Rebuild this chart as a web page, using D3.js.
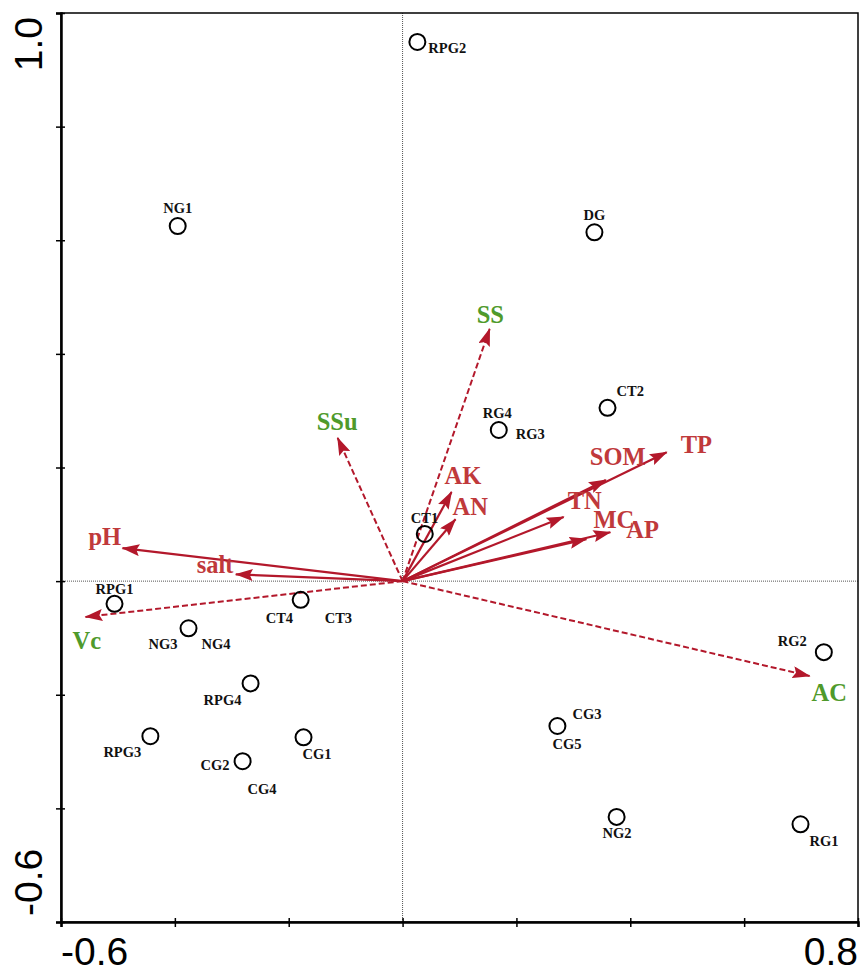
<!DOCTYPE html>
<html>
<head>
<meta charset="utf-8">
<script src="https://cdn.jsdelivr.net/npm/d3@7"></script>
<style>
  html, body { margin: 0; padding: 0; background: #fff; }
</style>
</head>
<body>
<div id="chart"></div>
<script>
// sample scores (axis 1, axis 2)
var siteNames = ["RPG2", "NG1", "DG", "CT2", "RG4", "CT1", "RPG1", "CT4", "NG3",
                 "RPG4", "RPG3", "CG1", "CG2", "RG2", "CG3", "NG2", "RG1"];
var siteX = [0.026, -0.395, 0.337, 0.360, 0.169, 0.039, -0.506, -0.179, -0.376,
             -0.267, -0.443, -0.174, -0.281, 0.740, 0.272, 0.376, 0.699];
var siteY = [0.949, 0.625, 0.614, 0.305, 0.266, 0.083, -0.040, -0.033, -0.083,
             -0.180, -0.273, -0.275, -0.317, -0.125, -0.255, -0.415, -0.428];

// sample labels (several points carry two labels)
var labelNames = ["RPG2", "NG1", "DG", "CT2", "RG4", "RG3", "CT1", "RPG1", "CT4", "CT3",
                  "NG3", "NG4", "RPG4", "RPG3", "CG1", "CG2", "CG4", "RG2", "CG3", "CG5", "NG2", "RG1"];
var labelSite = [0, 1, 2, 3, 4, 4, 5, 6, 7, 7, 8, 8, 9, 10, 11, 12, 12, 13, 14, 14, 15, 16];

// environmental vectors
var envNames = ["pH", "salt", "AK", "AN", "SOM", "TP", "TN", "MC", "AP"];
var envX = [-0.492, -0.293, 0.086, 0.093, 0.357, 0.464, 0.283, 0.323, 0.365];
var envY = [0.058, 0.012, 0.157, 0.109, 0.178, 0.227, 0.113, 0.074, 0.086];

// supplementary vectors (dashed)
var suppNames = ["SS", "SSu", "Vc", "AC"];
var suppX = [0.153, -0.114, -0.557, 0.715];
var suppY = [0.444, 0.252, -0.063, -0.167];

var xTicks = [-0.6, -0.4, -0.2, 0, 0.2, 0.4, 0.6, 0.8];
var yTicks = [-0.6, -0.4, -0.2, 0, 0.2, 0.4, 0.6, 0.8, 1.0];

// label placement (pixel offsets)
var labelPos = {
  RPG2: [11, 11, "start"], NG1: [0, -13, "middle"], DG: [0, -12, "middle"],
  CT2: [9, -12, "start"], RG4: [-16, -12, "start"], RG3: [17, 9, "start"],
  CT1: [-14, -11, "start"], RPG1: [0, -10, "middle"], CT4: [-35, 23, "start"],
  CT3: [24, 23, "start"], NG3: [-40, 21, "start"], NG4: [13, 21, "start"],
  RPG4: [-47, 22, "start"], RPG3: [-47, 21, "start"], CG1: [-1, 22, "start"],
  CG2: [-42, 9, "start"], CG4: [5, 33, "start"], RG2: [-46, -6, "start"],
  CG3: [15, -7, "start"], CG5: [-5, 23, "start"], NG2: [-14, 21, "start"],
  RG1: [9, 22, "start"]
};
var arrowPos = {
  pH: [-34, -3], salt: [-39, -1], AK: [-7, -8], AN: [-3, -4], SOM: [-16, -15],
  TP: [14, 1], TN: [4, -8], MC: [7, -11], AP: [16, 6],
  SS: [-13, -6], SSu: [-21, -8], Vc: [-13, 32], AC: [2, 25]
};

var W = 860, H = 971;
var padL = 61, padR = 858, padT = 13, padB = 922;
var arrowColor = "#b3182b", redText = "#c0393b", greenText = "#4f9a2b";

var svg = d3.select("#chart").append("svg")
  .attr("width", W).attr("height", H);

var x = d3.scaleLinear().domain([-0.6, 0.8]).range([padL, padR]);
var y = d3.scaleLinear().domain([-0.6, 1.0]).range([padB, padT]);

svg.append("defs").append("marker")
  .attr("id", "head")
  .attr("markerUnits", "userSpaceOnUse")
  .attr("viewBox", "0 0 18 12")
  .attr("refX", 17).attr("refY", 6)
  .attr("markerWidth", 18).attr("markerHeight", 12)
  .attr("orient", "auto")
  .append("path")
  .attr("d", "M0,0 L18,6 L0,12 L3,6 Z")
  .attr("fill", arrowColor);

// zero lines
svg.append("line")
  .attr("x1", x(0)).attr("x2", x(0)).attr("y1", padT).attr("y2", padB)
  .attr("stroke", "#555").attr("stroke-width", 1).attr("stroke-dasharray", "1,1");
svg.append("line")
  .attr("x1", padL).attr("x2", padR).attr("y1", y(0)).attr("y2", y(0))
  .attr("stroke", "#555").attr("stroke-width", 1).attr("stroke-dasharray", "1,1");

// frame
svg.append("rect")
  .attr("x", padL).attr("y", padT)
  .attr("width", padR - padL).attr("height", padB - padT)
  .attr("fill", "none").attr("stroke", "#000").attr("stroke-width", 1.5);

// axes
var xAxis = svg.append("g")
  .attr("transform", "translate(0," + padB + ")")
  .call(d3.axisBottom(x).tickValues(xTicks).tickSize(5).tickFormat(""));
xAxis.selectAll(".tick line").attr("y1", -4).attr("stroke-width", 1.5);
xAxis.select(".domain").attr("stroke-width", 2.5);

var yAxis = svg.append("g")
  .attr("transform", "translate(" + padL + ",0)")
  .call(d3.axisLeft(y).tickValues(yTicks).tickSize(5).tickFormat(""));
yAxis.selectAll(".tick line").attr("x1", 4).attr("x2", -5).attr("stroke-width", 1.5);
yAxis.select(".domain").attr("stroke-width", 2.5);

// axis end labels
var axisFont = "'Liberation Sans', Arial, sans-serif";
svg.append("text").text("-0.6")
  .attr("x", padL).attr("y", 965)
  .attr("font-family", axisFont).attr("font-size", 39).attr("text-anchor", "start");
svg.append("text").text("0.8")
  .attr("x", padR).attr("y", 965)
  .attr("font-family", axisFont).attr("font-size", 39).attr("text-anchor", "end");
svg.append("text").text("1.0")
  .attr("transform", "translate(42," + (y(1.0) + 4) + ") rotate(-90)")
  .attr("font-family", axisFont).attr("font-size", 39).attr("text-anchor", "end");
svg.append("text").text("-0.6")
  .attr("transform", "translate(42," + (y(-0.6) - 6) + ") rotate(-90)")
  .attr("font-family", axisFont).attr("font-size", 39).attr("text-anchor", "start");

var serif = "'Liberation Serif', 'Times New Roman', serif";

// dashed supplementary arrows
svg.selectAll("line.supp")
  .data(suppNames)
  .enter().append("line")
  .attr("class", "supp")
  .attr("x1", x(0)).attr("y1", y(0))
  .attr("x2", function(d, i) { return x(suppX[i]); })
  .attr("y2", function(d, i) { return y(suppY[i]); })
  .attr("stroke", arrowColor).attr("stroke-width", 2)
  .attr("stroke-dasharray", "6,3")
  .attr("marker-end", "url(#head)");

// solid env arrows
svg.selectAll("line.env")
  .data(envNames)
  .enter().append("line")
  .attr("class", "env")
  .attr("x1", x(0)).attr("y1", y(0))
  .attr("x2", function(d, i) { return x(envX[i]); })
  .attr("y2", function(d, i) { return y(envY[i]); })
  .attr("stroke", arrowColor).attr("stroke-width", 2.2)
  .attr("marker-end", "url(#head)");

// sites
svg.selectAll("circle.site")
  .data(siteNames)
  .enter().append("circle")
  .attr("class", "site")
  .attr("cx", function(d, i) { return x(siteX[i]); })
  .attr("cy", function(d, i) { return y(siteY[i]); })
  .attr("r", 8)
  .attr("fill", "none").attr("stroke", "#000").attr("stroke-width", 2);

svg.selectAll("text.site")
  .data(labelNames)
  .enter().append("text")
  .attr("class", "site")
  .text(function(d) { return d; })
  .attr("x", function(d, i) { return x(siteX[labelSite[i]]) + labelPos[d][0]; })
  .attr("y", function(d, i) { return y(siteY[labelSite[i]]) + labelPos[d][1]; })
  .attr("text-anchor", function(d) { return labelPos[d][2]; })
  .attr("font-family", serif).attr("font-weight", "bold").attr("font-size", 14.5)
  .attr("fill", "#111");

// vector labels
svg.selectAll("text.env")
  .data(envNames)
  .enter().append("text")
  .attr("class", "env")
  .text(function(d) { return d; })
  .attr("x", function(d, i) { return x(envX[i]) + arrowPos[d][0]; })
  .attr("y", function(d, i) { return y(envY[i]) + arrowPos[d][1]; })
  .attr("font-family", serif).attr("font-weight", "bold").attr("font-size", 24.5)
  .attr("fill", redText);

svg.selectAll("text.supp")
  .data(suppNames)
  .enter().append("text")
  .attr("class", "supp")
  .text(function(d) { return d; })
  .attr("x", function(d, i) { return x(suppX[i]) + arrowPos[d][0]; })
  .attr("y", function(d, i) { return y(suppY[i]) + arrowPos[d][1]; })
  .attr("font-family", serif).attr("font-weight", "bold").attr("font-size", 24.5)
  .attr("fill", greenText);
</script>
</body>
</html>
